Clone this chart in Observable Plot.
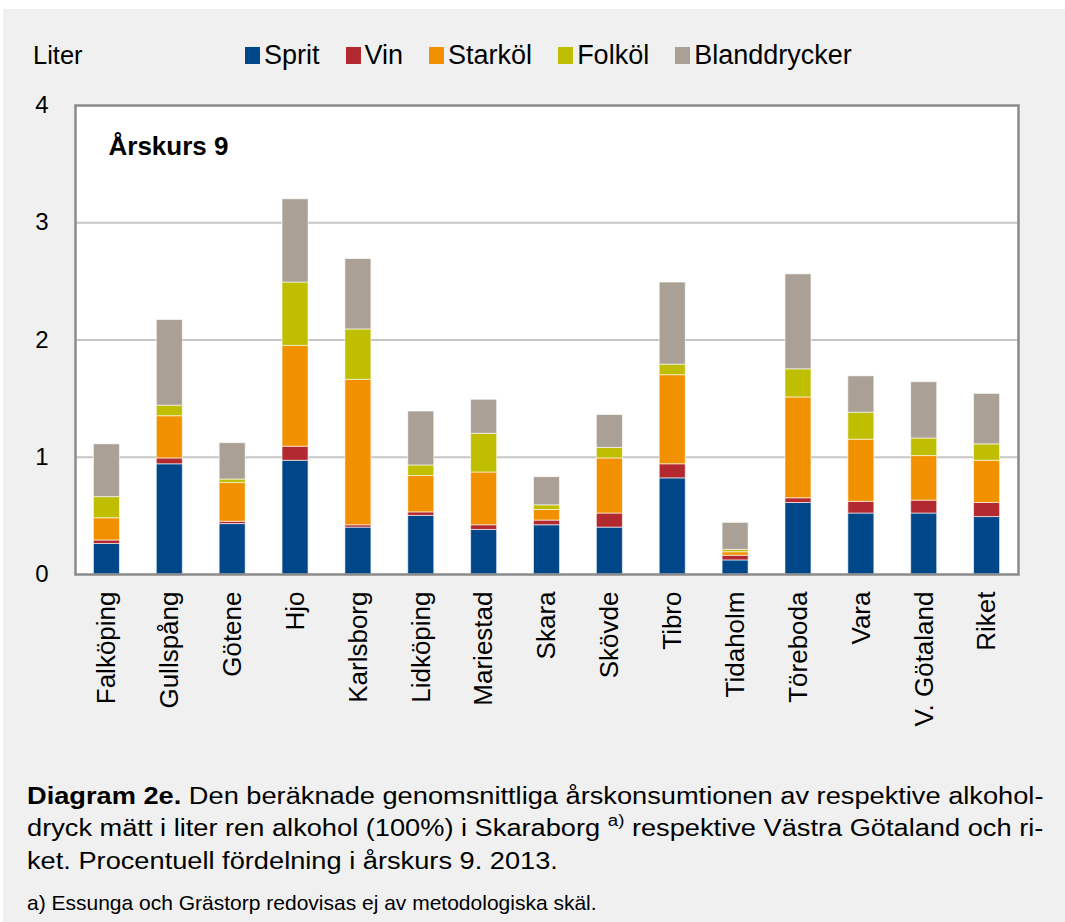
<!DOCTYPE html>
<html>
<head>
<meta charset="utf-8">
<script src="https://cdn.jsdelivr.net/npm/d3@7"></script>
<script src="https://cdn.jsdelivr.net/npm/@observablehq/plot@0.6"></script>
<style>
  html, body { margin: 0; padding: 0; background: #ffffff; }
  body { width: 1065px; height: 922px; position: relative; overflow: hidden;
         font-family: "Liberation Sans", Arial, sans-serif; color: #000; }
  #panel { position: absolute; left: 3px; top: 9px; width: 1062px; height: 913px; background: #f0f0f0; }
  #chart { position: absolute; left: 0; top: 0; }
  #ylabel { position: absolute; left: 33px; top: 40px; font-size: 25.5px; line-height: 30px; }
  #legend { position: absolute; left: 245px; top: 40px; display: flex; gap: 26px; font-size: 27px; line-height: 30px; }
  #legend .item { display: flex; align-items: center; gap: 4px; }
  #legend .sw { width: 15px; height: 17px; display: inline-block; }
  .cap { position: absolute; left: 27px; white-space: nowrap; font-size: 23.3px; transform-origin: 0 0; transform: scaleX(1.168); line-height: 28px; }
  .cap sup { font-size: 16px; vertical-align: baseline; position: relative; top: -10px; line-height: 0; }
  #foot { position: absolute; left: 27px; top: 891px; white-space: nowrap; font-size: 21px; line-height: 24px; }
</style>
</head>
<body>
<div id="panel"></div>
<div id="chart"></div>
<div id="ylabel">Liter</div>
<div id="legend"></div>
<div class="cap" style="top:782px"><b>Diagram 2e.</b> Den beräknade genomsnittliga årskonsumtionen av respektive alkohol-</div>
<div class="cap" style="top:814px">dryck mätt i liter ren alkohol (100%) i Skaraborg <sup>a)</sup> respektive Västra Götaland och ri-</div>
<div class="cap" style="top:847px">ket. Procentuell fördelning i årskurs 9. 2013.</div>
<div id="foot">a) Essunga och Grästorp redovisas ej av metodologiska skäl.</div>
<script>
const kommuner = ["Falköping","Gullspång","Götene","Hjo","Karlsborg","Lidköping","Mariestad","Skara","Skövde","Tibro","Tidaholm","Töreboda","Vara","V. Götaland","Riket"];
const dryckTyper = ["Sprit","Vin","Starköl","Folköl","Blanddrycker"];
const farger = ["#00478a","#b22a30","#f29100","#bfbe00","#aaa095"];

const sprit        = [0.26,0.94,0.43,0.97,0.40,0.50,0.38,0.42,0.40,0.82,0.12,0.61,0.52,0.52,0.49];
const vin          = [0.03,0.05,0.02,0.12,0.02,0.03,0.04,0.04,0.12,0.12,0.04,0.04,0.10,0.11,0.12];
const starkol      = [0.19,0.36,0.33,0.86,1.24,0.31,0.45,0.09,0.47,0.76,0.03,0.86,0.53,0.38,0.36];
const folkol       = [0.18,0.09,0.03,0.54,0.43,0.09,0.33,0.04,0.09,0.09,0.02,0.24,0.23,0.15,0.14];
const blanddrycker = [0.45,0.73,0.31,0.71,0.60,0.46,0.29,0.24,0.28,0.70,0.23,0.81,0.31,0.48,0.43];
const yTicks = [0,1,2,3,4];
const gridValues = [1,2,3];
const panelTitle = "Årskurs 9";

const serier = [sprit, vin, starkol, folkol, blanddrycker];
const rows = [];
kommuner.forEach((k, i) => {
  dryckTyper.forEach((d, j) => rows.push({kommun: k, dryck: d, liter: serier[j][i]}));
});

// legend
const legend = document.getElementById("legend");
dryckTyper.forEach((d, j) => {
  const it = document.createElement("div");
  it.className = "item";
  it.innerHTML = `<span class="sw" style="background:${farger[j]}"></span><span>${d}</span>`;
  legend.appendChild(it);
});

const chart = Plot.plot({
  width: 1065,
  height: 750,
  marginLeft: 75,
  marginRight: 47,
  marginTop: 105,
  marginBottom: 176,
  style: {background: "transparent", fontFamily: "'Liberation Sans', Arial, sans-serif", fontSize: "24px", color: "#000"},
  x: {domain: kommuner, paddingInner: 0.586, paddingOuter: 0.293, round: false, label: null},
  y: {domain: [0, 4], label: null},
  color: {domain: dryckTyper, range: farger, legend: false},
  marks: [
    Plot.frame({fill: "#ffffff", stroke: "none"}),
    Plot.ruleY(gridValues, {stroke: "#c6c6c6", strokeWidth: 2}),
    Plot.barY(rows, Plot.stackY({x: "kommun", y: "liter", fill: "dryck", order: dryckTyper, stroke: "#ffffff", strokeOpacity: 0.6, strokeWidth: 1})),
    Plot.frame({stroke: "#8a8a8a", strokeWidth: 2.5}),
    Plot.text([panelTitle], {frameAnchor: "top-left", dx: 33, dy: 31, text: d => d, fontWeight: "bold", fontSize: 26, textAnchor: "start", fill: "#000"}),
    Plot.axisY({ticks: yTicks, tickSize: 0, tickPadding: 27, tickFormat: d => String(d), fontSize: 24, label: null}),
    Plot.axisX({tickRotate: -90, tickSize: 0, tickPadding: 17, fontSize: 26, label: null})
  ]
});
document.getElementById("chart").appendChild(chart);
</script>
</body>
</html>
